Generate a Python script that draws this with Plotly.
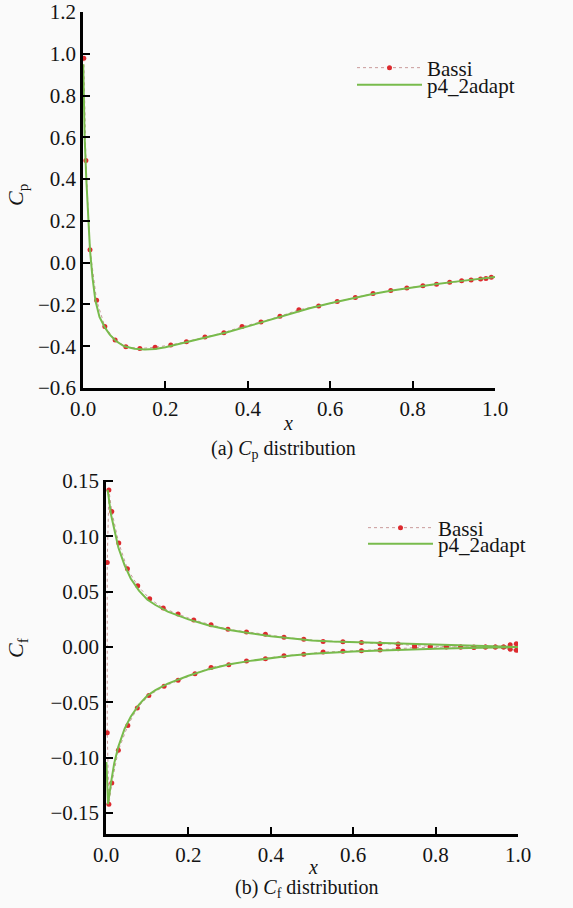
import plotly.graph_objects as go

# ---------------- data: (a) Cp distribution ----------------
cp_bassi_x = [0.002, 0.007, 0.017, 0.033, 0.053, 0.078, 0.104, 0.138, 0.175, 0.213,
              0.251, 0.296, 0.342, 0.386, 0.432, 0.478, 0.524, 0.572, 0.617, 0.661,
              0.704, 0.747, 0.786, 0.825, 0.858, 0.890, 0.919, 0.942, 0.965, 0.978, 0.991]
cp_bassi_y = [0.978, 0.489, 0.062, -0.180, -0.306, -0.370, -0.403, -0.411, -0.405, -0.394,
              -0.378, -0.356, -0.335, -0.306, -0.284, -0.257, -0.225, -0.208, -0.186, -0.167,
              -0.148, -0.133, -0.121, -0.111, -0.103, -0.094, -0.086, -0.083, -0.078, -0.076, -0.070]

cp_p4_x = [0.0005, 0.001, 0.004, 0.008, 0.012, 0.017, 0.023, 0.030, 0.040, 0.053, 0.065,
           0.080, 0.100, 0.125, 0.150, 0.175, 0.200, 0.250, 0.300, 0.350, 0.400, 0.450,
           0.500, 0.550, 0.600, 0.650, 0.700, 0.750, 0.800, 0.850, 0.900, 0.950, 1.000]
cp_p4_y = [0.95, 0.90, 0.60, 0.40, 0.22, 0.06, -0.07, -0.18, -0.26, -0.31, -0.345,
           -0.375, -0.400, -0.412, -0.416, -0.413, -0.405, -0.382, -0.357, -0.333, -0.305, -0.275,
           -0.245, -0.218, -0.194, -0.172, -0.151, -0.133, -0.118, -0.104, -0.092, -0.081, -0.069]

# ---------------- data: (b) Cf distribution ----------------
cf_bassi_x = [0.996, 0.981, 0.965, 0.945, 0.921, 0.893, 0.861, 0.826, 0.787, 0.749,
              0.709, 0.665, 0.620, 0.575, 0.527, 0.480, 0.432, 0.387, 0.341, 0.296,
              0.255, 0.213, 0.175, 0.139, 0.106, 0.077, 0.052, 0.031, 0.014, 0.007, 0.003,
              0.003, 0.007, 0.014, 0.030, 0.053, 0.076, 0.104, 0.141, 0.175, 0.216,
              0.255, 0.298, 0.341, 0.387, 0.432, 0.480, 0.527, 0.575, 0.620, 0.665,
              0.709, 0.749, 0.787, 0.826, 0.861, 0.893, 0.921, 0.945, 0.965, 0.981, 0.996]
cf_bassi_y = [0.0030, 0.0020, 0.0000, 0.0000, 0.0000, -0.0003, 0.0000, 0.0003, 0.0008, 0.0012,
              0.0027, 0.0030, 0.0042, 0.0048, 0.0051, 0.0070, 0.0088, 0.0115, 0.0136, 0.0160,
              0.0202, 0.0244, 0.0298, 0.0352, 0.0437, 0.0554, 0.0707, 0.0940, 0.1226, 0.1420, 0.0765,
              -0.0774, -0.1420, -0.1230, -0.0934, -0.0710, -0.0551, -0.0437, -0.0355, -0.0301, -0.0241,
              -0.0184, -0.0160, -0.0127, -0.0106, -0.0079, -0.0066, -0.0045, -0.0039, -0.0033, -0.0027,
              -0.0015, -0.0005, 0.0000, 0.0000, 0.0000, 0.0000, 0.0000, 0.0000, 0.0000, -0.0020, -0.0030]

cf_p4_x = [1.000, 0.950, 0.900, 0.850, 0.800, 0.750, 0.700, 0.650, 0.600, 0.550, 0.500,
           0.450, 0.400, 0.350, 0.300, 0.250, 0.200, 0.150, 0.120, 0.100, 0.080, 0.060,
           0.045, 0.030, 0.020, 0.012, 0.004, None,
           0.001, 0.005, 0.012, 0.020, 0.030, 0.045, 0.060, 0.080, 0.100, 0.120, 0.150,
           0.200, 0.250, 0.300, 0.350, 0.400, 0.450, 0.500, 0.550, 0.600, 0.650, 0.700,
           0.750, 0.800, 0.850, 0.900, 0.950, 1.000]
cf_p4_y = [0.0000, 0.0005, 0.0010, 0.0015, 0.0020, 0.0025, 0.0030, 0.0035, 0.0042, 0.0050, 0.0060,
           0.0077, 0.0098, 0.0125, 0.0155, 0.0195, 0.0250, 0.0320, 0.0380, 0.0430, 0.0510, 0.0620,
           0.0740, 0.0900, 0.1060, 0.1200, 0.1420, None,
           -0.1040, -0.1420, -0.1230, -0.1050, -0.0900, -0.0740, -0.0630, -0.0520, -0.0440, -0.0390, -0.0330,
           -0.0260, -0.0200, -0.0155, -0.0125, -0.0098, -0.0077, -0.0060, -0.0048, -0.0040, -0.0033, -0.0025,
           -0.0020, -0.0015, -0.0010, -0.0007, -0.0004, 0.0000]

# ---------------- labels ----------------
series_names = ["Bassi", "p4_2adapt"]
cp_ticks = [-0.6, -0.4, -0.2, 0.0, 0.2, 0.4, 0.6, 0.8, 1.0, 1.2]
cf_ticks = [-0.15, -0.10, -0.05, 0.00, 0.05, 0.10, 0.15]
x_ticks = [0.0, 0.2, 0.4, 0.6, 0.8, 1.0]

# ---------------- style ----------------
SERIF = "Liberation Serif, Times New Roman, serif"
BG = "#fafafa"
RED = "#dd2a2e"
DOT_LINE = "#c99a9a"
GREEN = "#78bb4c"
TXT = "#141414"

W, H = 573, 908


def px_x(p):
    return p / W


def px_y(p):
    return 1 - p / H


fig = go.Figure()

bassi_style = dict(mode="lines+markers",
                   line=dict(color=DOT_LINE, width=1, dash="dot"),
                   marker=dict(color=RED, size=5))
p4_style = dict(mode="lines", line=dict(color=GREEN, width=2))

fig.add_trace(go.Scatter(x=cp_bassi_x, y=cp_bassi_y, name=series_names[0],
                         xaxis="x", yaxis="y", legend="legend", **bassi_style))
fig.add_trace(go.Scatter(x=cp_p4_x, y=cp_p4_y, name=series_names[1],
                         xaxis="x", yaxis="y", legend="legend2", **p4_style))
fig.add_trace(go.Scatter(x=cf_bassi_x, y=cf_bassi_y, name=series_names[0],
                         xaxis="x2", yaxis="y2", legend="legend3", **bassi_style))
fig.add_trace(go.Scatter(x=cf_p4_x, y=cf_p4_y, name=series_names[1],
                         xaxis="x2", yaxis="y2", legend="legend4", **p4_style))

axis_common = dict(showline=True, linecolor="black", linewidth=2.5,
                   ticks="inside", ticklen=7, tickwidth=2, tickcolor="black",
                   showgrid=False, zeroline=False, automargin=False,
                   tickfont=dict(family=SERIF, size=21, color=TXT))

fig.update_layout(
    width=W, height=H,
    margin=dict(l=0, r=0, t=0, b=0, autoexpand=False),
    paper_bgcolor=BG, plot_bgcolor=BG,
    showlegend=True,
    xaxis=dict(domain=[px_x(83), px_x(495)], range=[0, 1.0], anchor="y",
               tickvals=x_ticks, tickformat=".1f", **axis_common),
    yaxis=dict(domain=[px_y(388), px_y(12)], range=[-0.6, 1.2], anchor="x",
               tickvals=cp_ticks, tickformat=".1f", **axis_common),
    xaxis2=dict(domain=[px_x(106), px_x(518)], range=[0, 1.0], anchor="y2",
                tickvals=x_ticks, tickformat=".1f", **axis_common),
    yaxis2=dict(domain=[px_y(834), px_y(480)], range=[-0.169, 0.151], anchor="x2",
                tickvals=cf_ticks, tickformat=".2f", **axis_common),
)

leg_common = dict(bgcolor="rgba(0,0,0,0)", borderwidth=0, itemwidth=65,
                  font=dict(family=SERIF, size=21, color=TXT),
                  xanchor="left", yanchor="middle", itemclick=False)
fig.update_layout(
    legend=dict(x=px_x(352), y=px_y(68), **leg_common),
    legend2=dict(x=px_x(352), y=px_y(85), **leg_common),
    legend3=dict(x=px_x(363), y=px_y(528), **leg_common),
    legend4=dict(x=px_x(363), y=px_y(544), **leg_common),
)

ann_font = dict(family=SERIF, size=20, color=TXT)
annotations = [
    dict(text="<i>C</i><sub>p</sub>", x=px_x(17), y=px_y(195), textangle=-90,
         font=dict(family=SERIF, size=22, color=TXT)),
    dict(text="<i>C</i><sub>f</sub>", x=px_x(17), y=px_y(648), textangle=-90,
         font=dict(family=SERIF, size=22, color=TXT)),
    dict(text="<i>x</i>", x=px_x(288), y=px_y(423), font=ann_font),
    dict(text="(a) <i>C</i><sub>p</sub> distribution", x=px_x(283), y=px_y(449), font=ann_font),
    dict(text="<i>x</i>", x=px_x(313), y=px_y(867), font=ann_font),
    dict(text="(b) <i>C</i><sub>f</sub> distribution", x=px_x(307), y=px_y(888), font=ann_font),
]
for a in annotations:
    a.update(xref="paper", yref="paper", showarrow=False, xanchor="center", yanchor="middle")
fig.update_layout(annotations=annotations)

fig.write_html("out.html",
               post_script="document.body.style.margin='0';document.body.style.overflow='hidden';")
